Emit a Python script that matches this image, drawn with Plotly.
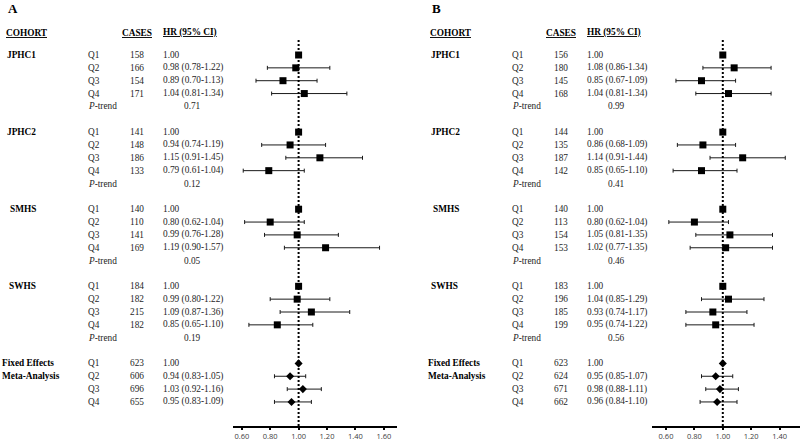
import plotly.graph_objects as go

# ---------------- data ----------------
cohorts = ["JPHC1", "JPHC2", "SMHS", "SWHS", "Fixed Effects<br>Meta-Analysis"]
quartiles = ["Q1", "Q2", "Q3", "Q4"]

# Panel A
a_cases = [[158, 166, 154, 171], [141, 148, 186, 133], [140, 110, 141, 169],
           [184, 182, 215, 182], [623, 606, 696, 655]]
a_hr = [[1.00, 0.98, 0.89, 1.04], [1.00, 0.94, 1.15, 0.79], [1.00, 0.80, 0.99, 1.19],
        [1.00, 0.99, 1.09, 0.85], [1.00, 0.94, 1.03, 0.95]]
a_lo = [[None, 0.78, 0.70, 0.81], [None, 0.74, 0.91, 0.61], [None, 0.62, 0.76, 0.90],
        [None, 0.80, 0.87, 0.65], [None, 0.83, 0.92, 0.83]]
a_hi = [[None, 1.22, 1.13, 1.34], [None, 1.19, 1.45, 1.04], [None, 1.04, 1.28, 1.57],
        [None, 1.22, 1.36, 1.10], [None, 1.05, 1.16, 1.09]]
a_ptrend = ["0.71", "0.12", "0.05", "0.19", None]

# Panel B
b_cases = [[156, 180, 145, 168], [144, 135, 187, 142], [140, 113, 154, 153],
           [183, 196, 185, 199], [623, 624, 671, 662]]
b_hr = [[1.00, 1.08, 0.85, 1.04], [1.00, 0.86, 1.14, 0.85], [1.00, 0.80, 1.05, 1.02],
        [1.00, 1.04, 0.93, 0.95], [1.00, 0.95, 0.98, 0.96]]
b_lo = [[None, 0.86, 0.67, 0.81], [None, 0.68, 0.91, 0.65], [None, 0.62, 0.81, 0.77],
        [None, 0.85, 0.74, 0.74], [None, 0.85, 0.88, 0.84]]
b_hi = [[None, 1.34, 1.09, 1.34], [None, 1.09, 1.44, 1.10], [None, 1.04, 1.35, 1.35],
        [None, 1.29, 1.17, 1.22], [None, 1.07, 1.11, 1.10]]
b_ptrend = ["0.99", "0.41", "0.46", "0.56", None]

tick_vals = [0.6, 0.8, 1.0, 1.2, 1.4, 1.6]
tick_text = ["0.60", "0.80", "1.00", "1.20", "1.40", "1.60"]

# ---------------- layout helpers ----------------
W, H = 800, 440
ROW0_PX, ROW_PX = 55.0, 12.85
TOP_PX, BOT_PX = 40.0, 426.0
SCALE = 142.0  # px per HR unit

SERIF = "Liberation Serif"
TXT = "#1e1e1e"
FS = 9.3

def px(x):
    return x / W

def py(y):
    return 1 - y / H

fig = go.Figure()
annotations = []
shapes = []

panels = [
    dict(letter="A", cases=a_cases, hr=a_hr, lo=a_lo, hi=a_hi, p=a_ptrend,
         off=0.0, ax_left=232.7, ax_right=397.0, one_px=298.6, xa="x",
         name_x=[5, 5, 8, 7, 0]),
    dict(letter="B", cases=b_cases, hr=b_hr, lo=b_lo, hi=b_hi, p=b_ptrend,
         off=424.0, ax_left=651.7, ax_right=800.0, one_px=722.8, xa="x2",
         name_x=[5, 5, 7, 5, 2]),
]

def ann(x, y, text, xanchor="left", yref="y", size=FS, bold=False, color=TXT):
    annotations.append(dict(
        x=px(x), xref="paper", y=y, yref=yref, text=text, showarrow=False,
        xanchor=xanchor, yanchor="middle",
        font=dict(family=SERIF, size=size, color="black" if bold else color),
    ))

for P in panels:
    o = P["off"]
    # panel letter & headers
    ann(6 + o, py(8), "<b>%s</b>" % P["letter"], yref="paper", size=13, bold=True)
    ann(4 + o, py(33), "<b><u>COHORT</u></b>", yref="paper", bold=True)
    ann(120 + o, py(33), "<b><u>CASES</u></b>", yref="paper", bold=True)
    ann(161 + o, py(33), "<b><u>HR (95% CI)</u></b>", yref="paper", bold=True)

    sq_x, sq_y, sq_ep, sq_em = [], [], [], []
    di_x, di_y, di_ep, di_em = [], [], [], []
    for c, name in enumerate(cohorts):
        start = 6 * c
        if "<br>" in name:
            parts = name.split("<br>")
            for k, part in enumerate(parts):
                ann(P["name_x"][c] + o, start + k, "<b>%s</b>" % part, bold=True)
        else:
            ann(P["name_x"][c] + o, start, "<b>%s</b>" % name, bold=True)
        for q in range(4):
            r = start + q
            hr = P["hr"][c][q]
            lo = P["lo"][c][q]
            hi = P["hi"][c][q]
            ann(86 + o, r, quartiles[q])
            ann(146 + o, r, str(P["cases"][c][q]), xanchor="right")
            if lo is None:
                ann(161 + o, r, "%.2f" % hr)
            else:
                ann(161 + o, r, "%.2f (%.2f-%.2f)" % (hr, lo, hi))
            ep = 0 if hi is None else hi - hr
            em = 0 if lo is None else hr - lo
            if c == len(cohorts) - 1:
                di_x.append(hr); di_y.append(r); di_ep.append(ep); di_em.append(em)
            else:
                sq_x.append(hr); sq_y.append(r); sq_ep.append(ep); sq_em.append(em)
        if P["p"][c] is not None:
            ann(86 + o, start + 4, "<i>P</i>-trend")
            ann(192 + o, start + 4, P["p"][c], xanchor="center")

    err = dict(type="data", symmetric=False, color="#1a1a1a", thickness=1, width=2)
    fig.add_trace(go.Scatter(
        x=sq_x, y=sq_y, mode="markers", xaxis=P["xa"], yaxis="y",
        marker=dict(symbol="square", size=7, color="black"),
        error_x=dict(array=sq_ep, arrayminus=sq_em, **err),
        cliponaxis=False, hoverinfo="skip"))
    fig.add_trace(go.Scatter(
        x=di_x, y=di_y, mode="markers", xaxis=P["xa"], yaxis="y",
        marker=dict(symbol="diamond", size=6.2, color="black"),
        error_x=dict(array=di_ep, arrayminus=di_em, **err),
        cliponaxis=False, hoverinfo="skip"))

    # reference line at HR = 1
    shapes.append(dict(type="line", xref=P["xa"], yref="y domain", x0=1.0, x1=1.0,
                       y0=0, y1=1, line=dict(color="black", width=2, dash="2px,2px")))

def xaxis_cfg(P):
    lo = 1 - (P["one_px"] - P["ax_left"]) / SCALE
    hi = 1 + (P["ax_right"] - P["one_px"]) / SCALE
    return dict(
        domain=[px(P["ax_left"]), px(P["ax_right"])], range=[lo, hi],
        anchor="y", showline=True, linewidth=2, linecolor="black",
        ticks="outside", ticklen=2, tickwidth=2, tickcolor="black",
        tickvals=tick_vals, ticktext=tick_text, showgrid=False, zeroline=False,
        tickfont=dict(family="Open Sans", size=7.5, color="#404040"),
        fixedrange=True,
    )

fig.update_layout(
    width=W, height=H,
    margin=dict(l=0, r=0, t=0, b=0),
    paper_bgcolor="white", plot_bgcolor="white",
    showlegend=False,
    xaxis=xaxis_cfg(panels[0]),
    xaxis2=xaxis_cfg(panels[1]),
    yaxis=dict(domain=[py(BOT_PX), py(TOP_PX)],
               range=[(BOT_PX - ROW0_PX) / ROW_PX, (TOP_PX - ROW0_PX) / ROW_PX],
               visible=False, fixedrange=True),
    annotations=annotations,
    shapes=shapes,
)

fig.write_html("out.html", config={"displayModeBar": False},
               post_script="document.body.style.margin='0px';")
